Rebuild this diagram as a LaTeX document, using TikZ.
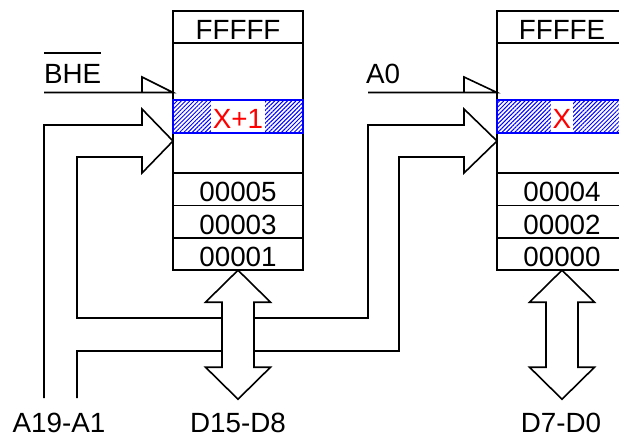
\documentclass[tikz,border=0pt]{standalone}
\usepackage{fontspec}
\setmainfont{Liberation Sans}
\usetikzlibrary{positioning,patterns.meta}

\begin{document}
\begin{tikzpicture}[x=0.5pt,y=-0.5pt,line width=0.8pt,
  every node/.style={font=\fontsize{13.9}{16}\selectfont,outer sep=0pt},
  mem/.style={draw,minimum width=65pt,minimum height=129.5pt,inner sep=0pt},
  cell/.style={draw,minimum width=65pt,minimum height=16.2pt,inner sep=0pt,text height=12.6pt,text depth=0pt},
  hatch/.style={draw=blue,line width=1.1pt,minimum width=65pt,minimum height=16.5pt,inner sep=0pt,
    pattern={Lines[angle=45,distance=1.5pt,line width=0.5pt]},pattern color=blue},
  hot/.style={fill=white,text=red,inner xsep=1pt,inner ysep=0pt,minimum height=15.3pt,text height=12.4pt,text depth=0pt},
  lbl/.style={inner sep=0pt},
  bus/.style={draw,fill=white,line join=miter}]
\clip (0,0) rectangle (619,435);

% odd bank
\node[mem] (memL) at (238,140.5) {};
\node[cell] (topL) at (238,27) {FFFFF};
\node[hatch] (xL) at (238,116.5) {};
\node[hot] (xLt) at (xL) {X+1};
\node[cell] (l5) at (238,189.2) {00005};
\node[cell,below=0pt of l5] (l3) {00003};
\node[cell,below=0pt of l3] (l1) {00001};

% even bank
\node[mem] (memR) at (562,140.5) {};
\node[cell] (topR) at (562,27) {FFFFE};
\node[hatch] (xR) at (562,116.5) {};
\node[hot] (xRt) at (xR) {X};
\node[cell] (r4) at (562,189.2) {00004};
\node[cell,below=0pt of r4] (r2) {00002};
\node[cell,below=0pt of r2] (r0) {00000};

% select lines
\node[lbl,anchor=base west] (bhe) at (44,83) {BHE};
\draw ([yshift=5.5pt]bhe.north west) -- ([yshift=5.5pt]bhe.north east);
\node[lbl,anchor=base west] (a0) at (366,83) {A0};
\coordinate (bheIn) at (44,92.5);
\coordinate (a0In) at (368,92.5);
\draw (bheIn) -- (bheIn -| memL.west) -- ++(-31,-15.5) -- ++(0,15.5);
\draw (a0In) -- (a0In -| memR.west) -- ++(-33,-15.5) -- ++(0,15.5);

% address bus
\node[lbl,anchor=base] (addr) at (59,432) {A19-A1};
\draw[line join=miter] (44,398) |- (142,125) -- (142,109) -- (memL.west |- 0,141) -- (142,173) -- (142,157)
  -| (77,318) -| (368,125) -- (464,125) -- (464,109) -- (memR.west |- 0,141) -- (464,173) -- (464,157)
  -| (399,351) -| (77,398);

% data buses
\node[lbl,anchor=base] (dhi) at (238,432) {D15-D8};
\node[lbl,anchor=base] (dlo) at (561,432) {D7-D0};
\foreach \c in {l1,r0}
  \draw[bus] (\c.south) -- ++(32.5,32) -- ++(-16.5,0) -- ++(0,65) -- ++(16.5,0) -- ++(-32.5,32)
    -- ++(-32.5,-32) -- ++(16.5,0) -- ++(0,-65) -- ++(-16.5,0) -- cycle;
\end{tikzpicture}
\end{document}
